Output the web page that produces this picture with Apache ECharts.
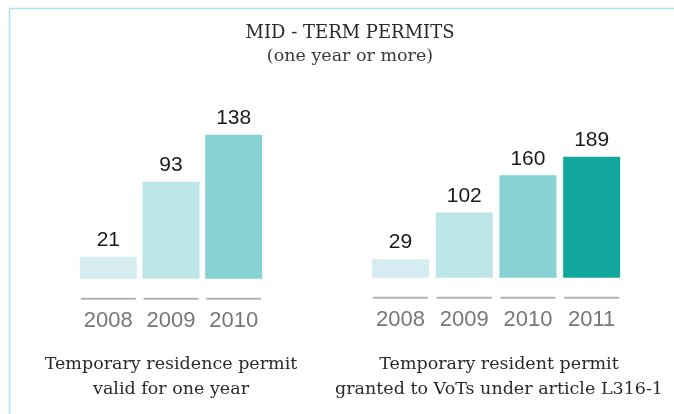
<!DOCTYPE html>
<html>
<head>
<meta charset="utf-8">
<script src="https://cdn.jsdelivr.net/npm/echarts@6/dist/echarts.min.js"></script>
<style>
  html, body { margin: 0; padding: 0; background: #fff; }
  #main { width: 674px; height: 414px; }
</style>
</head>
<body>
<div id="main"></div>
<script>
// left block: temporary residence permit (1 year)
const leftYears = ['2008', '2009', '2010'];
const leftValues = [21, 93, 138];
// right block: permits granted to VoTs (L316-1)
const rightYears = ['2008', '2009', '2010', '2011'];
const rightValues = [29, 102, 160, 189];

const barColors = ['#d5edf0', '#bde4e6', '#88d2d3', '#12a79c'];

const serif = '"DejaVu Serif", serif';
const sans = '"Liberation Sans", Arial, sans-serif';

const chart = echarts.init(document.getElementById('main'));

function yearAxis(gridIndex, data) {
  return {
    type: 'category',
    gridIndex: gridIndex,
    data: data,
    axisLine: { show: false },
    axisTick: { show: false },
    axisLabel: {
      margin: 19,
      formatter: v => '{l|}\n{y|' + v + '}',
      rich: {
        l: { width: 55, height: 2, lineHeight: 2, backgroundColor: '#b3b3b3' },
        y: { fontSize: 22, color: '#777', fontFamily: sans, lineHeight: 42 }
      }
    }
  };
}

function barSeries(idx, values) {
  return {
    type: 'bar',
    xAxisIndex: idx,
    yAxisIndex: idx,
    barWidth: 57,
    data: values.map((v, i) => ({ value: v, itemStyle: { color: barColors[i] } })),
    label: {
      show: true,
      position: 'top',
      distance: 6,
      fontSize: 21,
      color: '#1a1a1a',
      fontFamily: sans
    }
  };
}

const captionStyle = { fontFamily: serif, fontSize: 17.5, fontWeight: 'normal', color: '#2a2a2a', lineHeight: 25 };

const option = {
  animation: false,
  title: [
    {
      text: 'MID - TERM PERMITS',
      subtext: '(one year or more)',
      left: 345,
      top: 19,
      textAlign: 'center',
      itemGap: 5,
      textStyle: { fontFamily: serif, fontSize: 18, fontWeight: 'normal', color: '#2a2a2a' },
      subtextStyle: { fontFamily: serif, fontSize: 17.5, color: '#3a3a3a' }
    },
    {
      text: 'Temporary residence permit\nvalid for one year',
      left: 166,
      top: 347,
      textAlign: 'center',
      textStyle: captionStyle
    },
    {
      text: 'Temporary resident permit\ngranted to VoTs under article L316-1',
      left: 494,
      top: 347,
      textAlign: 'center',
      textStyle: captionStyle
    }
  ],
  graphic: [
    {
      type: 'rect',
      shape: { x: 9.5, y: 8.5, width: 700, height: 500 },
      style: { fill: 'none', stroke: '#aee3e6', lineWidth: 1.5 },
      silent: true
    }
  ],
  grid: [
    { left: 77, width: 188, top: 134.7, bottom: 135.3 },
    { left: 368.7, width: 254.8, top: 156.7, bottom: 136.3 }
  ],
  xAxis: [yearAxis(0, leftYears), yearAxis(1, rightYears)],
  yAxis: [
    { type: 'value', gridIndex: 0, min: 0, max: Math.max(...leftValues), show: false },
    { type: 'value', gridIndex: 1, min: 0, max: Math.max(...rightValues), show: false }
  ],
  series: [barSeries(0, leftValues), barSeries(1, rightValues)]
};

chart.setOption(option);
</script>
</body>
</html>
